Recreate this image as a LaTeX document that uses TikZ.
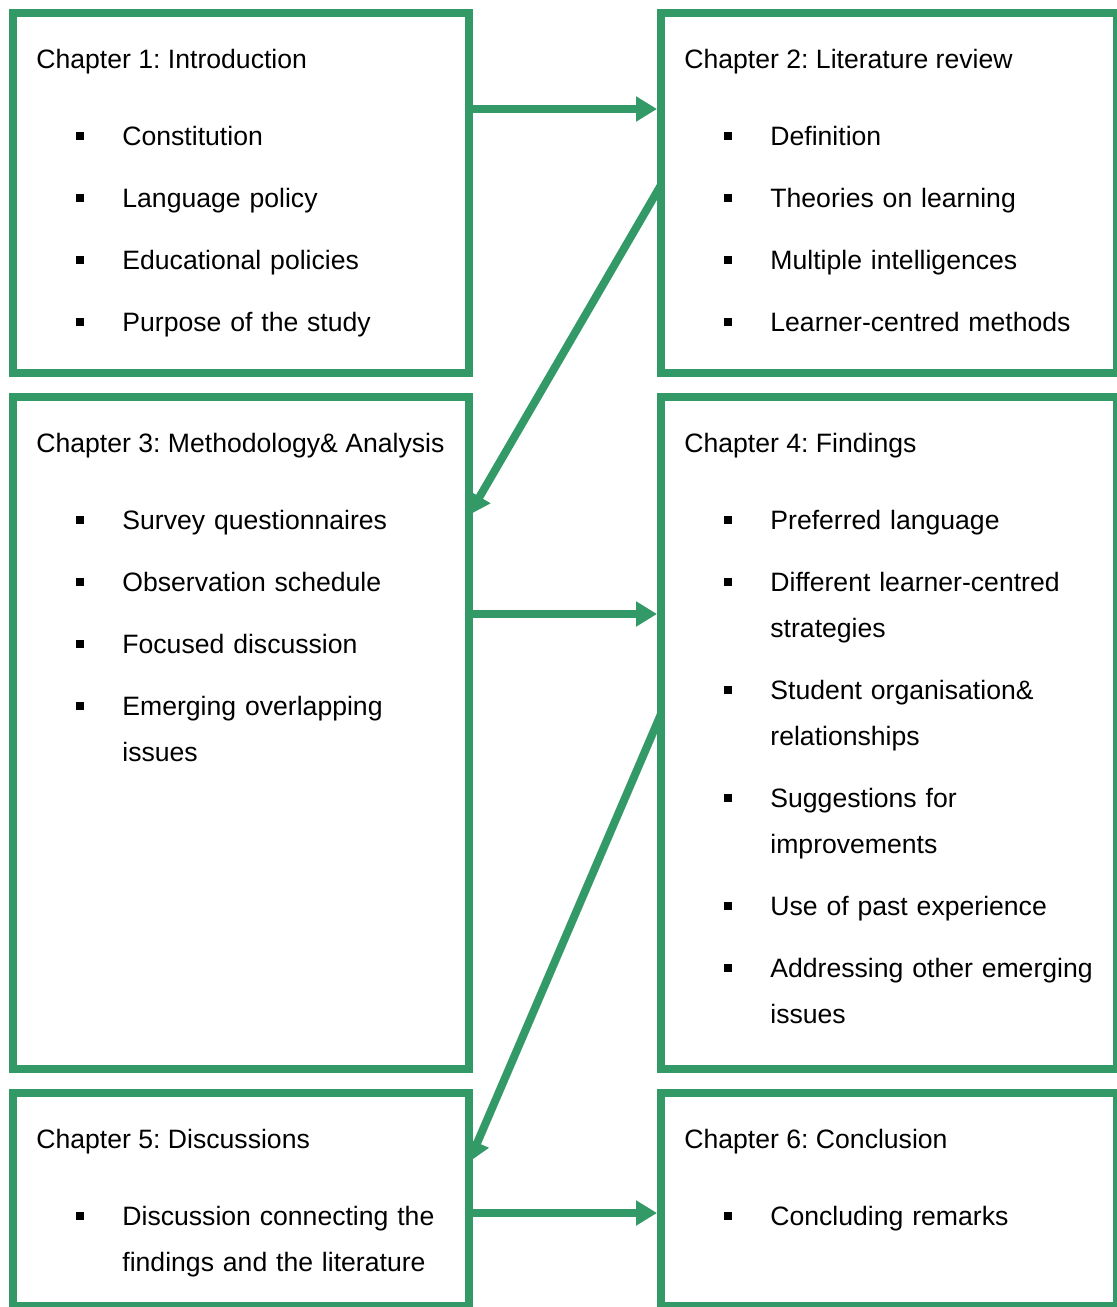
\documentclass[tikz,border=0pt]{standalone}
\usepackage{fontspec}
\setmainfont{Liberation Sans}
\usetikzlibrary{arrows.meta}
\definecolor{chgreen}{RGB}{51,153,102}
\newcommand{\sqbullet}{\leavevmode\llap{\rule[2.5pt]{4pt}{4pt}\hspace{19pt}}}
\frenchspacing

\begin{document}
\begin{tikzpicture}[x=0.5pt,y=-0.5pt,
  chapter/.style={draw=chgreen,line width=4pt,inner sep=0pt,minimum width=228pt},
  title/.style={anchor=base west,inner sep=0pt,font=\fontsize{13.3}{23}\selectfont},
  item/.style={anchor=base west,inner sep=0pt,align=left,text width=170pt,
    font=\fontsize{13.3}{23}\selectfont\frenchspacing},
  link/.style={draw=chgreen,line width=4pt,-{Triangle[length=10.5pt,width=12pt]}}]
  \useasboundingbox (0,0) rectangle (1116,1307);

  \node[chapter,minimum height=180pt] (ch1) at (241,193) {};
  \node[chapter,minimum height=180pt] (ch2) at (889,193) {};
  \node[chapter,minimum height=336pt] (ch3) at (241,733) {};
  \node[chapter,minimum height=336pt] (ch4) at (889,733) {};
  \node[chapter,minimum height=106.5pt] (ch5) at (241,1199.5) {};
  \node[chapter,minimum height=106.5pt] (ch6) at (889,1199.5) {};

  \node[title] (t1) at (36,68) {Chapter 1: Introduction};
  \node[item] (ch1a) at (122,145) {\sqbullet Constitution};
  \node[item] (ch1b) at (122,207) {\sqbullet Language policy};
  \node[item] (ch1c) at (122,269) {\sqbullet Educational policies};
  \node[item] (ch1d) at (122,331) {\sqbullet Purpose of the study};

  \node[title] (t2) at (684,68) {Chapter 2: Literature review};
  \node[item] (ch2a) at (770,145) {\sqbullet Definition};
  \node[item] (ch2b) at (770,207) {\sqbullet Theories on learning};
  \node[item] (ch2c) at (770,269) {\sqbullet Multiple intelligences};
  \node[item] (ch2d) at (770,331) {\sqbullet Learner-centred methods};

  \node[title] (t3) at (36,452) {Chapter 3: Methodology\& Analysis};
  \node[item] (ch3a) at (122,529) {\sqbullet Survey questionnaires};
  \node[item] (ch3b) at (122,591) {\sqbullet Observation schedule};
  \node[item] (ch3c) at (122,653) {\sqbullet Focused discussion};
  \node[item] (ch3d) at (122,715) {\sqbullet Emerging overlapping\\issues};

  \node[title] (t4) at (684,452) {Chapter 4: Findings};
  \node[item] (ch4a) at (770,529) {\sqbullet Preferred language};
  \node[item] (ch4b) at (770,591) {\sqbullet Different learner-centred\\strategies};
  \node[item] (ch4c) at (770,699) {\sqbullet Student organisation\&\\relationships};
  \node[item] (ch4d) at (770,807) {\sqbullet Suggestions for\\improvements};
  \node[item] (ch4e) at (770,915) {\sqbullet Use of past experience};
  \node[item] (ch4f) at (770,977) {\sqbullet Addressing other emerging\\issues};

  \node[title] (t5) at (36,1148) {Chapter 5: Discussions};
  \node[item] (ch5a) at (122,1225) {\sqbullet Discussion connecting the\\findings and the literature};

  \node[title] (t6) at (684,1148) {Chapter 6: Conclusion};
  \node[item] (ch6a) at (770,1225) {\sqbullet Concluding remarks};

  \draw[link] ([yshift=42pt]ch1.east) -- ([yshift=42pt]ch2.west);
  \draw[link] ([xshift=2pt,yshift=4pt]ch2.west) -- ([xshift=-2pt,yshift=109pt]ch3.east);
  \draw[link] ([yshift=59.5pt]ch3.east) -- ([yshift=59.5pt]ch4.west);
  \draw[link] ([xshift=2pt,yshift=9.5pt]ch4.west) -- ([xshift=-2pt,yshift=18.75pt]ch5.east);
  \draw[link] ([yshift=-6.75pt]ch5.east) -- ([yshift=-6.75pt]ch6.west);
\end{tikzpicture}
\end{document}
